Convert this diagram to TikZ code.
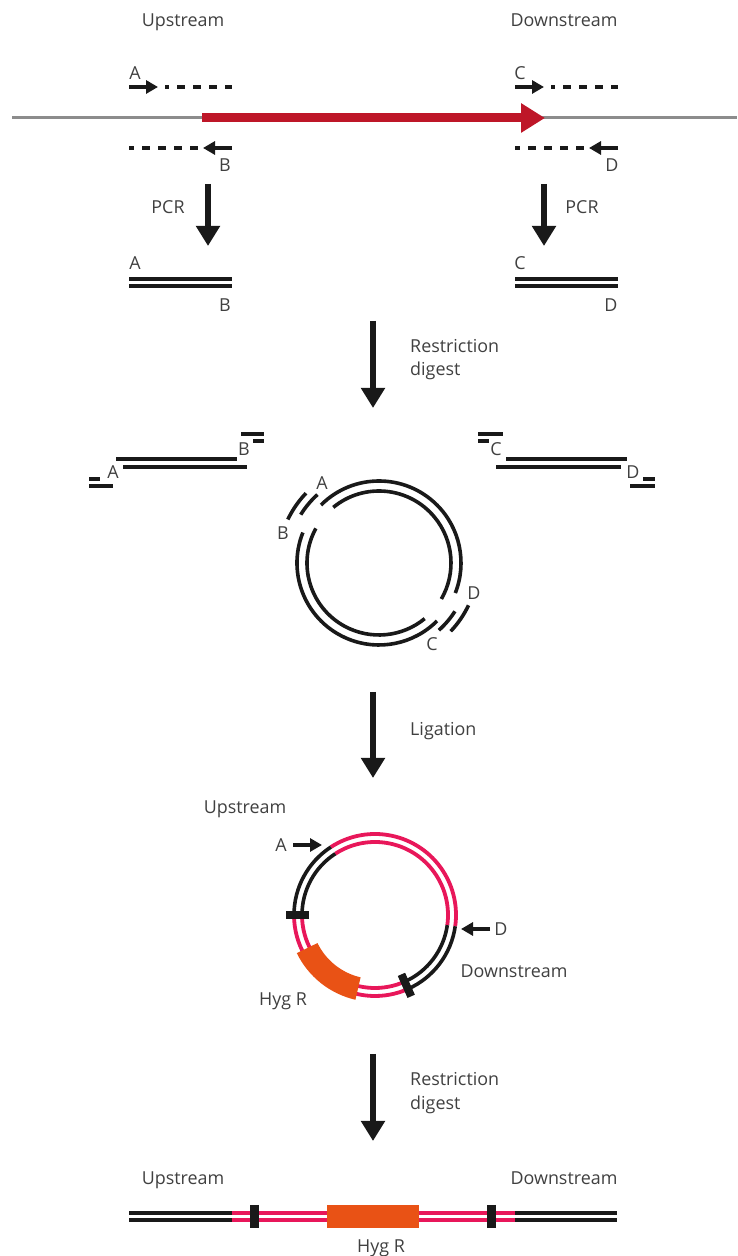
\documentclass[tikz,border=0pt]{standalone}
\usepackage{xcolor}
\usepackage{fontspec}
\setmainfont{Open Sans}
\usetikzlibrary{arrows.meta}
\definecolor{genered}{HTML}{BE1628}
\definecolor{vecpink}{HTML}{E8175A}
\definecolor{hygorange}{HTML}{E95215}
\definecolor{labgray}{HTML}{404040}
\tikzset{
  lab/.style={inner sep=0pt, text=labgray, text height=14pt, text depth=0pt, font=\fontsize{17.9}{23}\selectfont},
  dna/.style={line width=3.6pt, black!90},
  pinkdna/.style={line width=3.8pt, vecpink},
  primer/.style={line width=3.2pt, black!90, -{Triangle[length=12pt,width=13pt]}},
  dashprimer/.style={line width=3.2pt, black!90, dash pattern=on 8pt off 8pt, dash phase=3pt},
  stepdown/.style={line width=6pt, black!90, -{Triangle[length=20pt,width=23pt]}},
  cutsite/.style={line width=8pt, black!90}
}
\begin{document}
\begin{tikzpicture}[x=1pt,y=1pt]
  \useasboundingbox (0,0) rectangle (737,1256);
  % genomic locus and primers
  \node[lab] (upT) at (183,1236) {Upstream};
  \node[lab] (downT) at (564,1236) {Downstream};
  \node[lab] (pA) at (135,1183) {A};
  \node[lab] (pB) at (225,1091) {B};
  \node[lab] (pC) at (520,1183) {C};
  \node[lab] (pD) at (612,1091) {D};
  \coordinate (gL) at (12,1138);
  \coordinate (gR) at (737,1138);
  \coordinate (geneS) at (202,1138);
  \coordinate (geneE) at (545,1138);
  \draw[line width=3pt, black!45] (gL) -- (gR);
  \draw[line width=9pt, genered, -{Triangle[length=24pt,width=28pt]}] (geneS) -- (geneE);
  \draw[primer] (129,1169) -- (158,1169);
  \draw[dashprimer, dash phase=4pt] (165,1169) -- (232,1169);
  \draw[primer] (232,1108) -- (203,1108);
  \draw[dashprimer] (129,1108) -- (198,1108);
  \draw[primer] (515,1169) -- (544,1169);
  \draw[dashprimer, dash phase=4pt] (551,1169) -- (618,1169);
  \draw[primer] (618,1108) -- (589,1108);
  \draw[dashprimer] (515,1108) -- (584,1108);
  % PCR
  \coordinate (pcrLa) at (208,1072);
  \coordinate (pcrLb) at (208,1010);
  \coordinate (pcrRa) at (544,1072);
  \coordinate (pcrRb) at (544,1010);
  \draw[stepdown] (pcrLa) -- (pcrLb);
  \draw[stepdown] (pcrRa) -- (pcrRb);
  \node[lab] (pcrL) at (168,1049) {PCR};
  \node[lab] (pcrR) at (582,1049) {PCR};
  \draw[dna] (129,977) -- (232,977);
  \draw[dna] (129,970) -- (232,970);
  \draw[dna] (515,977) -- (618,977);
  \draw[dna] (515,970) -- (618,970);
  \node[lab] (fA) at (135,993) {A};
  \node[lab] (fB) at (225,951) {B};
  \node[lab] (fC) at (520,993) {C};
  \node[lab] (fD) at (611,951) {D};
  % digest
  \coordinate (digA) at (373,935);
  \coordinate (digB) at (373,848);
  \draw[stepdown] (digA) -- (digB);
  \node[lab, anchor=west] (digTa) at (410,910) {Restriction};
  \node[lab, anchor=west] (digTb) at (410,887) {digest};
  \draw[dna] (116,797) -- (237,797);
  \draw[dna] (123,789) -- (247,789);
  \draw[dna] (241,822) -- (264,822);
  \draw[dna] (253,815) -- (264,815);
  \draw[dna] (89,777) -- (100,777);
  \draw[dna] (89,770) -- (113,770);
  \draw[dna] (506,797) -- (627,797);
  \draw[dna] (496,789) -- (621,789);
  \draw[dna] (478,822) -- (503,822);
  \draw[dna] (478,815) -- (489,815);
  \draw[dna] (643,777) -- (655,777);
  \draw[dna] (630,770) -- (655,770);
  \node[lab] (dA) at (113,784) {A};
  \node[lab] (dB) at (244,807) {B};
  \node[lab] (dC) at (496,807) {C};
  \node[lab] (dD) at (633,784) {D};
  % open vector with loose ends
  \begin{scope}[shift={(379,693)}]
    \draw[dna] (135:82pt) arc[start angle=135, end angle=-21.5, radius=82pt];
    \draw[dna] (129.4:72pt) arc[start angle=129.4, end angle=-30, radius=72pt];
    \draw[dna] (158.2:82pt) arc[start angle=158.2, end angle=315, radius=82pt];
    \draw[dna] (151.3:72pt) arc[start angle=151.3, end angle=309.4, radius=72pt];
    \draw[dna] (154.5:101pt) arc[start angle=154.5, end angle=136.3, radius=101pt];
    \draw[dna] (148.3:92pt) arc[start angle=148.3, end angle=132, radius=92pt];
    \draw[dna] (-43.6:99pt) arc[start angle=-43.6, end angle=-25.3, radius=99pt];
    \draw[dna] (-48.3:90pt) arc[start angle=-48.3, end angle=-32.5, radius=90pt];
  \end{scope}
  \node[lab] (cA) at (322,773) {A};
  \node[lab] (cB) at (283,723) {B};
  \node[lab] (cC) at (432,612) {C};
  \node[lab] (cD) at (474,663) {D};
  % ligation
  \coordinate (ligA) at (373,564);
  \coordinate (ligB) at (373,478);
  \draw[stepdown] (ligA) -- (ligB);
  \node[lab, anchor=west] (ligT) at (410,527) {Ligation};
  % closed construct
  \begin{scope}[shift={(375,341)}]
    \draw[pinkdna] (123:81pt) arc[start angle=123, end angle=-8, radius=81pt];
    \draw[pinkdna] (123:73pt) arc[start angle=123, end angle=-8, radius=73pt];
    \draw[pinkdna] (180:81pt) arc[start angle=180, end angle=294, radius=81pt];
    \draw[pinkdna] (180:73pt) arc[start angle=180, end angle=294, radius=73pt];
    \draw[dna] (123:81pt) arc[start angle=123, end angle=180, radius=81pt];
    \draw[dna] (123:73pt) arc[start angle=123, end angle=180, radius=73pt];
    \draw[dna] (294:81pt) arc[start angle=294, end angle=352, radius=81pt];
    \draw[dna] (294:73pt) arc[start angle=294, end angle=352, radius=73pt];
    \draw[cutsite] (180:66pt) -- (180:89pt);
    \draw[cutsite] (294:65pt) -- (294:89pt);
    \fill[hygorange] (206:64pt) arc[start angle=206, end angle=257, radius=64pt]
      -- (257:87pt) arc[start angle=257, end angle=206, radius=87pt] -- cycle;
  \end{scope}
  \node[lab] (vUp) at (245,449) {Upstream};
  \node[lab] (vDown) at (514,285) {Downstream};
  \node[lab] (vHyg) at (283,257) {Hyg R};
  \node[lab] (vA) at (281,411) {A};
  \node[lab] (vD) at (501,327) {D};
  \draw[primer] (293,411) -- (322,411);
  \draw[primer] (490,327) -- (461,327);
  % final digest
  \coordinate (cutA) at (373,202);
  \coordinate (cutB) at (373,115);
  \draw[stepdown] (cutA) -- (cutB);
  \node[lab, anchor=west] (cutTa) at (410,177) {Restriction};
  \node[lab, anchor=west] (cutTb) at (410,153) {digest};
  \draw[dna] (129,43) -- (232,43);
  \draw[dna] (129,36) -- (232,36);
  \draw[pinkdna] (232,43) -- (515,43);
  \draw[pinkdna] (232,36) -- (515,36);
  \draw[dna] (515,43) -- (617,43);
  \draw[dna] (515,36) -- (617,36);
  \draw[line width=9pt, black!90] (254.5,51) -- (254.5,28);
  \draw[line width=9pt, black!90] (491,51) -- (491,28);
  \fill[hygorange] (327,28) rectangle (419,51);
  \node[lab] (lineUp) at (183,78) {Upstream};
  \node[lab] (lineDown) at (564,78) {Downstream};
  \node[lab] (lineHyg) at (381,11) {Hyg R};
\end{tikzpicture}
\end{document}
